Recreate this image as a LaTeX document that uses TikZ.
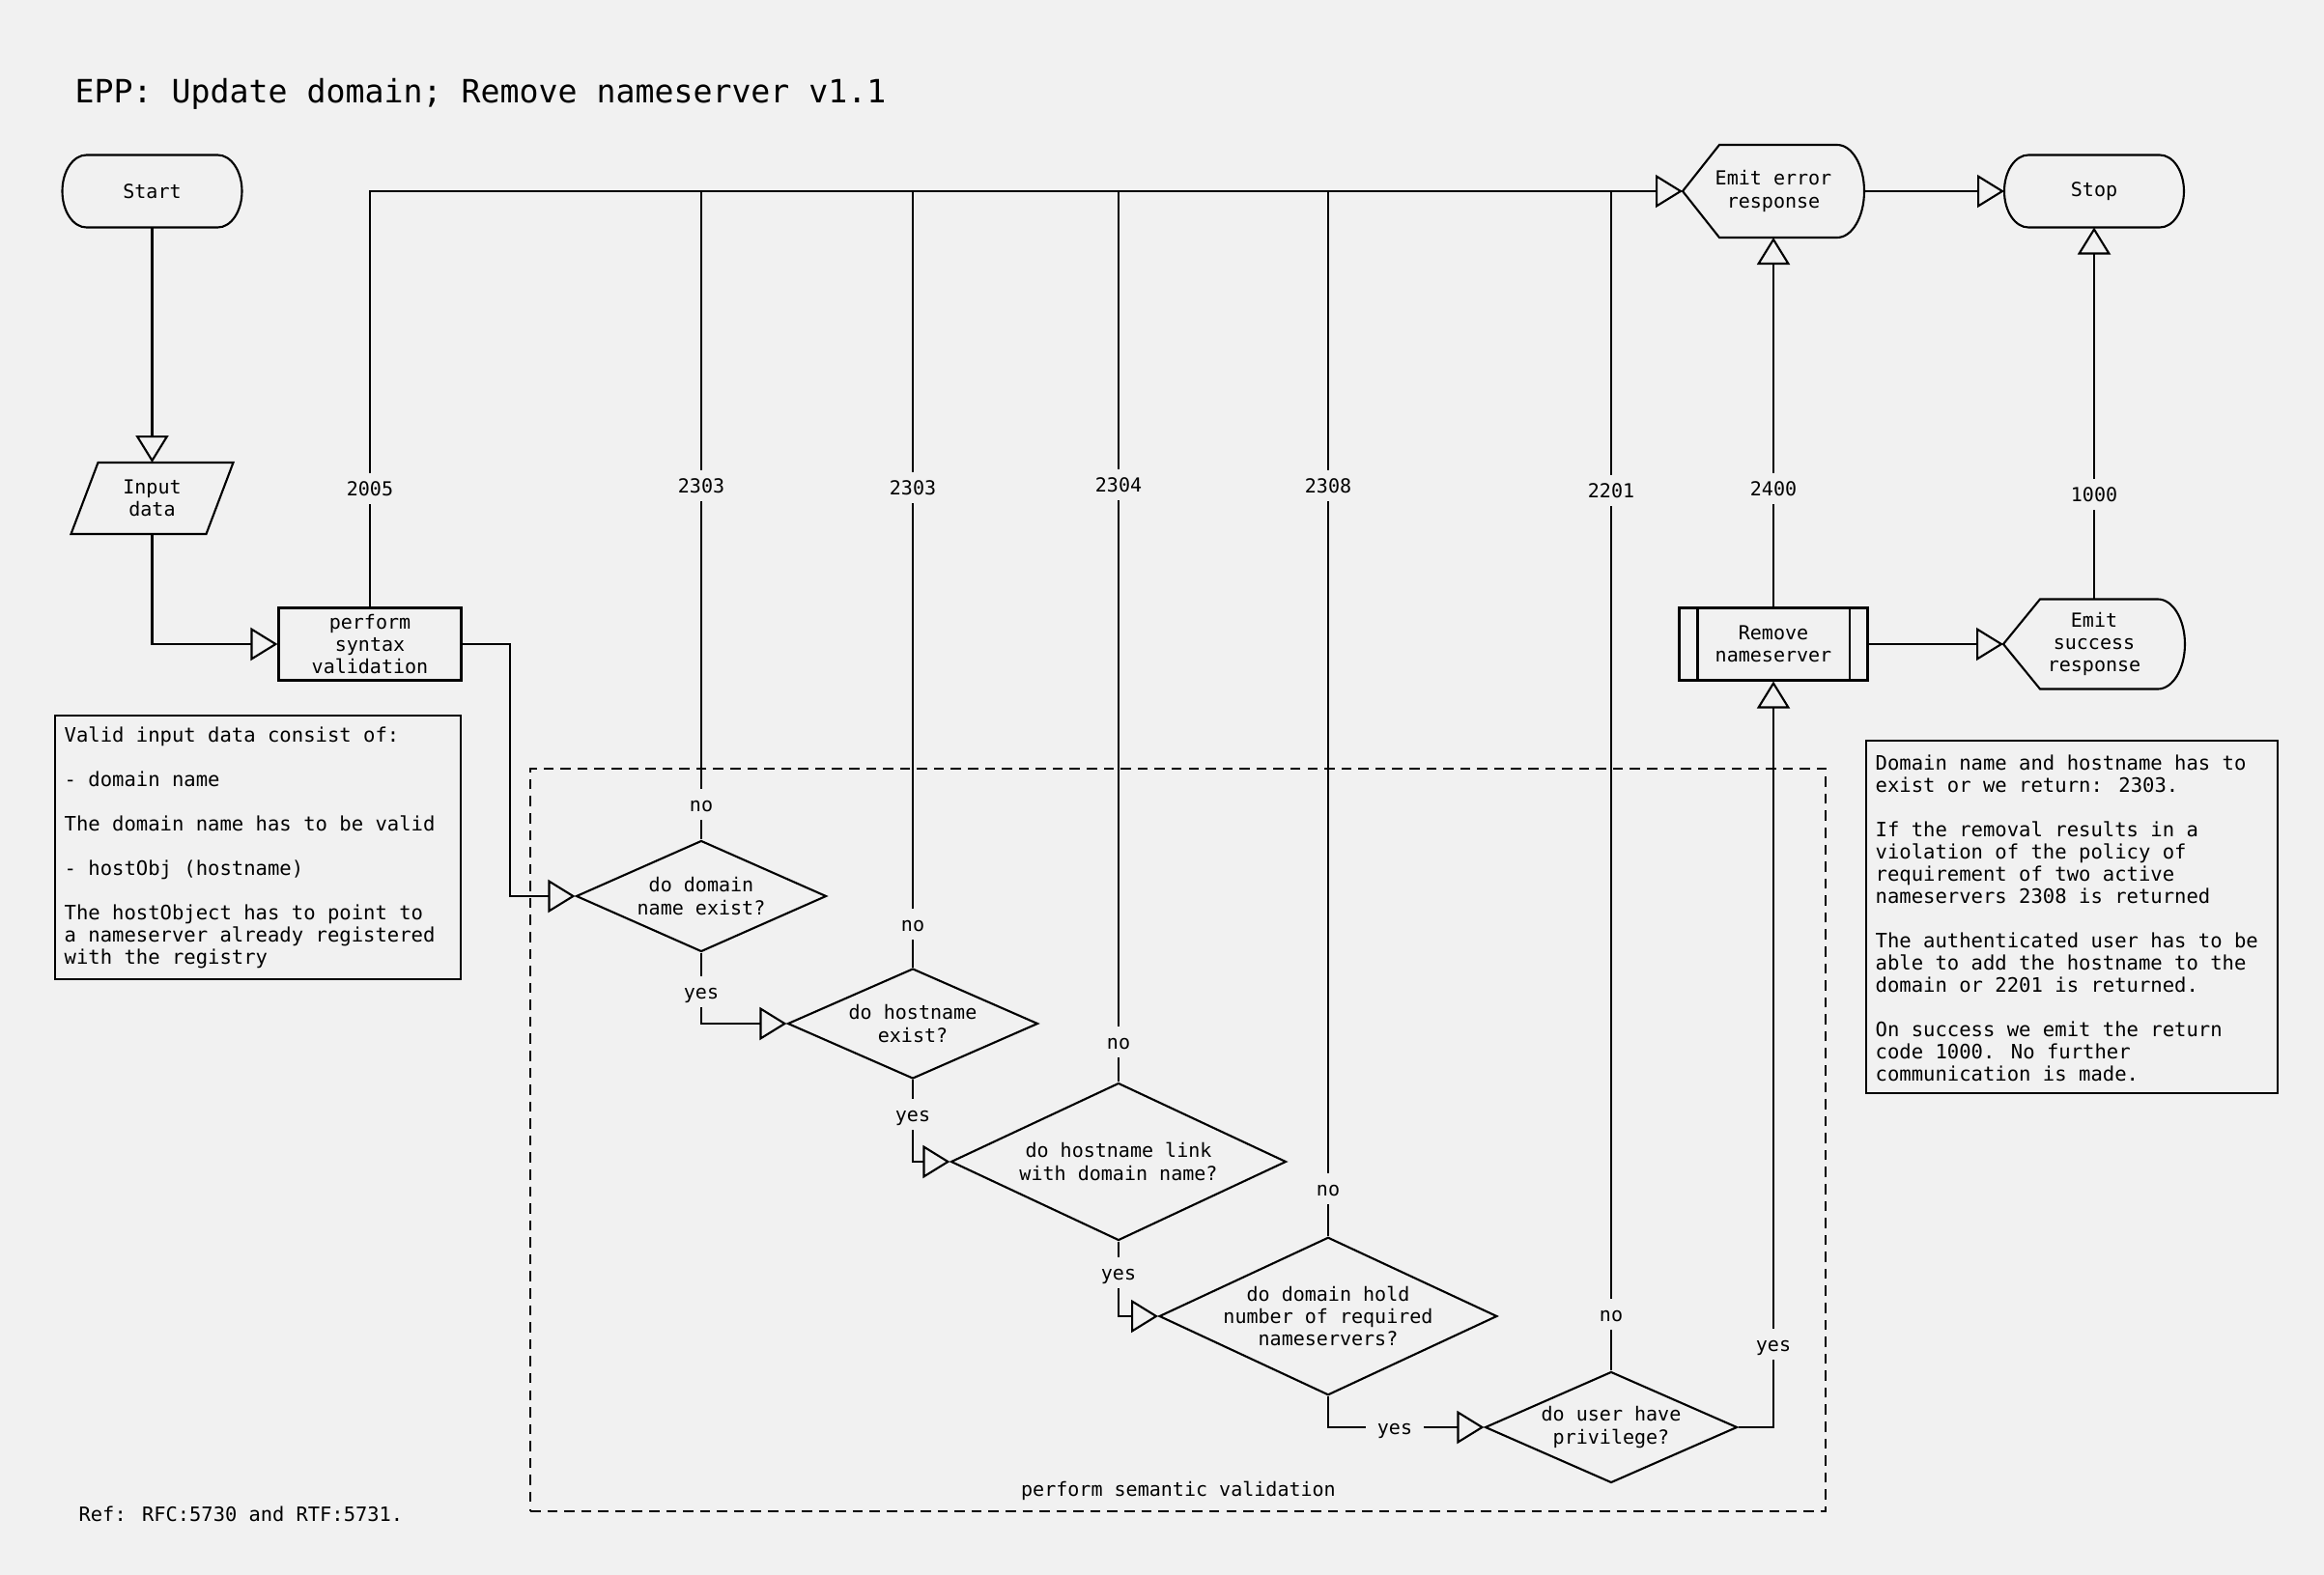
\documentclass[tikz,border=0pt]{standalone}
\usepackage{fontspec}
\setmainfont{DejaVu Sans Mono}
\usetikzlibrary{arrows.meta,shapes.geometric}
\definecolor{paper}{HTML}{F1F1F1}
\tikzset{
  base/.style={draw=black,line width=.6pt,align=center,font=\fontsize{5.7}{6.6}\selectfont,inner sep=0pt},
  terminal/.style={base,draw=none,outer sep=0pt,minimum width=1.86cm,minimum height=.75cm},
  process/.style={base,rectangle,minimum width=1.89cm,minimum height=.75cm},
  decision/.style={base,diamond,aspect=2.25},
  display/.style={base,draw=none,outer sep=0pt,minimum width=1.88cm},
  ioshape/.style={base,draw=none,outer sep=0pt,minimum width=1.68cm,minimum height=.74cm},
  outline/.style={line width=.6pt},
  notetext/.style={align=left,font=\fontsize{5.85}{6.54}\selectfont,inner sep=0pt,anchor=west},
  lbl/.style={fill=paper,font=\fontsize{5.7}{6.6}\selectfont,inner xsep=3.5pt,inner ysep=1.5pt,text height=5pt,text depth=1pt},
  flow/.style={-{Triangle[open,length=2.8mm,width=3.4mm]},line width=.6pt},
  wire/.style={line width=.6pt},
}

\begin{document}
\begin{tikzpicture}
  \fill[paper] (0,0) rectangle (24.06,-16.31);
  \useasboundingbox (0,0) rectangle (24.06,-16.31);

  \node[anchor=west,inner sep=0pt,font=\fontsize{9.45}{11}\selectfont] (title) at (.77,-.97) {EPP: Update domain; Remove nameserver v1.1};

  % main flow
  \node[terminal] (start) at (1.575,-1.98) {Start};
  \draw[outline] ([xshift=.25cm]start.north west) -- ([xshift=-.25cm]start.north east) arc[start angle=90,end angle=-90,x radius=.25cm,y radius=.375cm] -- ([xshift=.25cm]start.south west) arc[start angle=270,end angle=90,x radius=.25cm,y radius=.375cm] -- cycle;
  \node[ioshape] (input) at (1.575,-5.16) {Input\\data};
  \draw[outline] ([xshift=.28cm]input.north west) -- (input.north east) -- ([xshift=-.28cm]input.south east) -- (input.south west) -- cycle;
  \node[process] (syntax) at (3.83,-6.67) {perform\\syntax\\validation};

  \node[display,minimum height=.96cm] (err) at (18.36,-1.98) {Emit error\\response};
  \draw[outline] (err.west) -- ([xshift=.38cm]err.north west) -- ([xshift=-.28cm]err.north east) arc[start angle=90,end angle=-90,x radius=.28cm,y radius=.48cm] -- ([xshift=.38cm]err.south west) -- cycle;
  \node[terminal] (stop) at (21.68,-1.98) {Stop};
  \draw[outline] ([xshift=.25cm]stop.north west) -- ([xshift=-.25cm]stop.north east) arc[start angle=90,end angle=-90,x radius=.25cm,y radius=.375cm] -- ([xshift=.25cm]stop.south west) arc[start angle=270,end angle=90,x radius=.25cm,y radius=.375cm] -- cycle;

  \node[process,minimum width=1.95cm] (remove) at (18.36,-6.67) {Remove\\nameserver};
  \draw[outline] ([xshift=.2cm]remove.north west) -- ([xshift=.2cm]remove.south west)
                 ([xshift=-.2cm]remove.north east) -- ([xshift=-.2cm]remove.south east);
  \node[display,minimum height=.93cm] (success) at (21.68,-6.67) {Emit\\success\\response};
  \draw[outline] (success.west) -- ([xshift=.38cm]success.north west) -- ([xshift=-.28cm]success.north east) arc[start angle=90,end angle=-90,x radius=.28cm,y radius=.465cm] -- ([xshift=.38cm]success.south west) -- cycle;

  % semantic validation
  \node[draw,line width=.6pt,dash pattern=on 3pt off 2pt,minimum width=13.41cm,minimum height=7.69cm] (semantic) at (12.195,-11.805) {};
  \node[font=\fontsize{5.7}{6.6}\selectfont] (semlbl) at (12.20,-15.44) {perform semantic validation};

  \node[decision,minimum width=2.59cm,minimum height=1.15cm] (d1) at (7.26,-9.28) {do domain\\name exist?};
  \node[decision,minimum width=2.59cm,minimum height=1.14cm] (d2) at (9.45,-10.60) {do hostname\\exist?};
  \node[decision,minimum width=3.47cm,minimum height=1.63cm,aspect=2.13] (d3) at (11.58,-12.03) {do hostname link\\with domain name?};
  \node[decision,minimum width=3.44cm,minimum height=1.61cm,aspect=2.14] (d4) at (13.75,-13.63) {do domain hold\\number of required\\nameservers?};
  \node[decision,minimum width=2.61cm,minimum height=1.15cm] (d5) at (16.68,-14.78) {do user have\\privilege?};

  % notes
  \draw[wire] (.57,-7.41) rectangle (4.77,-10.14);
  \node[notetext] (inputnote) at (.66,-8.78) {Valid input data consist of:\\[6.54pt]
    - domain name\\[6.54pt]
    The domain name has to be valid\\[6.54pt]
    - hostObj (hostname)\\[6.54pt]
    The hostObject has to point to\\
    a nameserver already registered\\
    with the registry};
  \draw[wire] (19.32,-7.67) rectangle (23.58,-11.32);
  \node[notetext] (codenote) at (19.41,-9.505) {Domain name and hostname has to\\
    exist or we return: 2303.\\[6.54pt]
    If the removal results in a\\
    violation of the policy of\\
    requirement of two active\\
    nameservers 2308 is returned\\[6.54pt]
    The authenticated user has to be\\
    able to add the hostname to the\\
    domain or 2201 is returned.\\[6.54pt]
    On success we emit the return\\
    code 1000. No further\\
    communication is made.};
  \node[anchor=west,inner sep=0pt,font=\fontsize{5.8}{6.6}\selectfont] (ref) at (.81,-15.68) {Ref: RFC:5730 and RTF:5731.};

  % connectors
  \draw[flow] (start) -- (input);
  \draw[flow] (input.south) |- (syntax.west);
  \draw[flow] (syntax.east) -- ++(.49,0) |- (d1.west);
  \draw[flow] (syntax.north) |- (err.west);
  \draw[wire] (d1.north) -- (d1.north |- err.west);
  \draw[wire] (d2.north) -- (d2.north |- err.west);
  \draw[wire] (d3.north) -- (d3.north |- err.west);
  \draw[wire] (d4.north) -- (d4.north |- err.west);
  \draw[wire] (d5.north) -- (d5.north |- err.west);
  \draw[flow] (d1.south) |- (d2.west);
  \draw[flow] (d2.south) |- (d3.west);
  \draw[flow] (d3.south) |- (d4.west);
  \draw[flow] (d4.south) |- (d5.west);
  \draw[flow] (d5.east) -| (remove.south);
  \draw[flow] (remove.north) -- (err.south);
  \draw[flow] (remove.east) -- (success.west);
  \draw[flow] (success.north) -- (stop.south);
  \draw[flow] (err.east) -- (stop.west);

  % labels on connectors
  \node[lbl] at (syntax.north |- 0,-5.06) {2005};
  \node[lbl] at (d1.north |- 0,-5.03) {2303};
  \node[lbl] at (d2.north |- 0,-5.05) {2303};
  \node[lbl] at (d3.north |- 0,-5.02) {2304};
  \node[lbl] at (d4.north |- 0,-5.03) {2308};
  \node[lbl] at (d5.north |- 0,-5.08) {2201};
  \node[lbl] at (remove.north |- 0,-5.06) {2400};
  \node[lbl] at (success.north |- 0,-5.12) {1000};
  \node[lbl] at (d1.north |- 0,-8.33) {no};
  \node[lbl] at (d2.north |- 0,-9.57) {no};
  \node[lbl] at (d3.north |- 0,-10.79) {no};
  \node[lbl] at (d4.north |- 0,-12.31) {no};
  \node[lbl] at (d5.north |- 0,-13.61) {no};
  \node[lbl] at (d1.south |- 0,-10.27) {yes};
  \node[lbl] at (d2.south |- 0,-11.54) {yes};
  \node[lbl] at (d3.south |- 0,-13.18) {yes};
  \node[lbl] at (14.44,-14.78) {yes};
  \node[lbl] at (remove.south |- 0,-13.92) {yes};
\end{tikzpicture}
\end{document}
